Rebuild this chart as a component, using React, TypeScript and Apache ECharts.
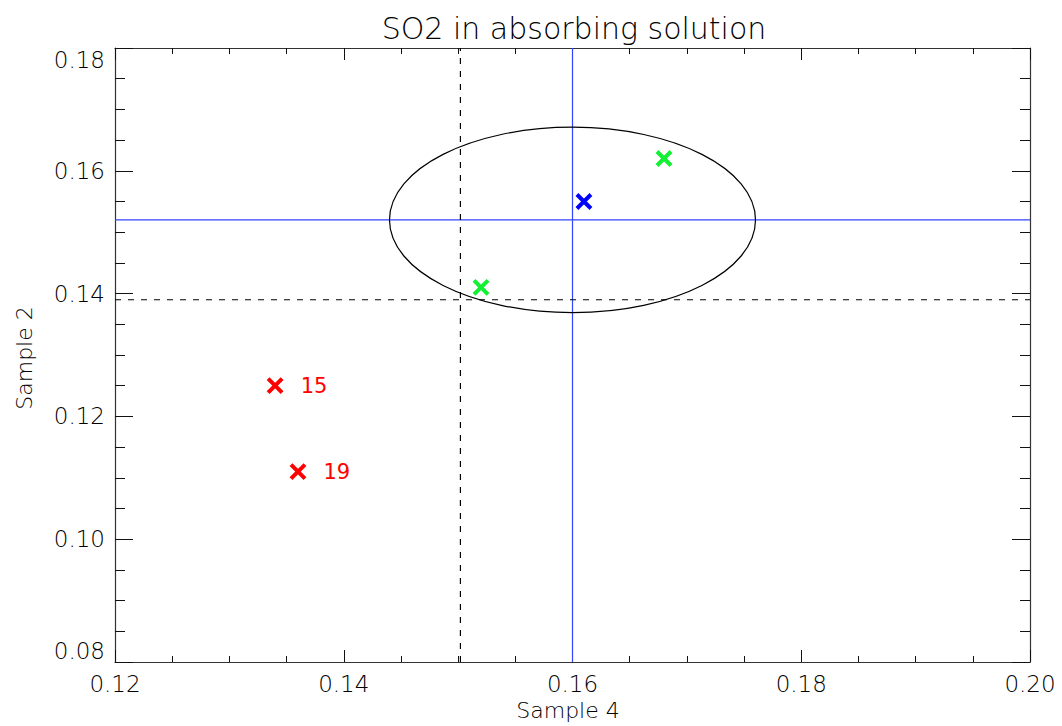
import React, { useEffect, useRef } from "react";
import * as echarts from "echarts";

const titleText = "SO2 in absorbing solution";
const xName = "Sample 4";
const yName = "Sample 2";

const xMin = 0.12;
const xMax = 0.2;
const yMin = 0.08;
const yMax = 0.18;
const majorStep = 0.02;

const redPoints: [number, number][] = [
  [0.134, 0.125],
  [0.136, 0.111],
];
const redLabels = ["15", "19"];
const greenPoints: [number, number][] = [
  [0.168, 0.162],
  [0.152, 0.141],
];
const bluePoints: [number, number][] = [[0.161, 0.155]];

const blueLineX = 0.16;
const blueLineY = 0.152;
const dashLineX = 0.1502;
const dashLineY = 0.139;

// ellipse: centre x, centre y, semi-axis x, semi-axis y
const ellipseData: [number, number, number, number][] = [[0.16, 0.152, 0.016, 0.0151]];

const FONT = "DejaVu Sans";
const TEXT_COLOR = "#000";
const AXIS_COLOR = "#333";
const CROSS = "path://M0,0L10,10M10,0L0,10";

const GRID_LEFT = 115;
const GRID_TOP = 48;
const GRID_W = 915;
const GRID_H = 614;

export default function App() {
  const ref = useRef<HTMLDivElement>(null);

  useEffect(() => {
    document.body.style.margin = "0";
    if (!ref.current) return;
    const chart = echarts.init(ref.current, undefined, { renderer: "svg" });

    const axisCommon = (len: number, minorLen: number) => ({
      axisLine: { show: true, onZero: false, lineStyle: { color: AXIS_COLOR, width: 1.2 } },
      axisTick: { show: true, inside: true, length: len, lineStyle: { color: "#111", width: 1 } },
      minorTick: { show: true, splitNumber: 4, length: minorLen, lineStyle: { color: "#111", width: 1 } },
      splitLine: { show: false },
      minorSplitLine: { show: false },
    });

    const fmt = (v: number) => v.toFixed(2);
    const labelStyle = { fontFamily: FONT, fontSize: 23, fontWeight: 200, color: TEXT_COLOR };

    const crossSeries = (data: [number, number][], color: string, extra: any = {}) => ({
      type: "scatter",
      data,
      symbol: CROSS,
      symbolSize: 14,
      itemStyle: { color: "none", borderColor: color, borderWidth: 4, opacity: 1 },
      emphasis: { disabled: true },
      z: 5,
      ...extra,
    });

    const refLine = (data: [number, number][], color: string, type: any) => ({
      type: "line",
      data,
      symbol: "none",
      silent: true,
      lineStyle: { color, width: 1.2, type },
      z: 2,
    });

    chart.setOption({
      animation: false,
      backgroundColor: "#fff",
      title: {
        text: titleText,
        left: 569,
        textAlign: "center",
        top: 8,
        textStyle: { fontFamily: FONT, fontSize: 30, fontWeight: 200, color: TEXT_COLOR },
      },
      graphic: [
        {
          type: "text",
          x: 568,
          y: 710,
          style: {
            text: xName,
            fontFamily: FONT,
            fontSize: 22,
            fontWeight: 200,
            fill: TEXT_COLOR,
            align: "center",
            verticalAlign: "middle",
          },
        },
        {
          type: "text",
          x: 24,
          y: 358,
          rotation: Math.PI / 2,
          style: {
            text: yName,
            fontFamily: FONT,
            fontSize: 22,
            fontWeight: 200,
            fill: TEXT_COLOR,
            align: "center",
            verticalAlign: "middle",
          },
        },
      ],
      grid: { left: GRID_LEFT, top: GRID_TOP, width: GRID_W, height: GRID_H, containLabel: false },
      xAxis: [
        {
          type: "value",
          min: xMin,
          max: xMax,
          interval: majorStep,
          position: "bottom",
          axisLabel: { formatter: fmt, margin: 10, ...labelStyle },
          ...axisCommon(12, 6),
        },
        {
          type: "value",
          min: xMin,
          max: xMax,
          interval: majorStep,
          position: "top",
          axisLabel: { show: false },
          ...axisCommon(12, 6),
        },
      ],
      yAxis: [
        {
          type: "value",
          min: yMin,
          max: yMax,
          interval: majorStep,
          position: "left",
          axisLabel: {
            formatter: fmt,
            margin: 10,
            ...labelStyle,
            verticalAlignMinLabel: "bottom",
            verticalAlignMaxLabel: "top",
          },
          ...axisCommon(18, 10),
        },
        {
          type: "value",
          min: yMin,
          max: yMax,
          interval: majorStep,
          position: "right",
          axisLabel: { show: false },
          ...axisCommon(18, 10),
        },
      ],
      series: [
        {
          type: "custom",
          coordinateSystem: "cartesian2d",
          data: ellipseData,
          renderItem: (params: any, api: any) => {
            const c = api.coord([api.value(0), api.value(1)]);
            const s = api.size([api.value(2), api.value(3)]);
            return {
              type: "ellipse",
              shape: { cx: c[0], cy: c[1], rx: s[0], ry: s[1] },
              style: { fill: "none", stroke: "#000", lineWidth: 1.2 },
              silent: true,
            };
          },
          z: 3,
        },
        refLine([[blueLineX, yMin], [blueLineX, yMax]], "#3344ff", "solid"),
        refLine([[xMin, blueLineY], [xMax, blueLineY]], "#3344ff", "solid"),
        refLine([[dashLineX, yMin], [dashLineX, yMax]], "#000", [6, 7]),
        refLine([[xMin, dashLineY], [xMax, dashLineY]], "#000", [6, 7]),
        crossSeries(redPoints, "#ff0000", {
          label: {
            show: true,
            position: "right",
            distance: 16,
            formatter: (p: any) => redLabels[p.dataIndex],
            fontFamily: FONT,
            fontSize: 21,
            color: "#ff0000",
          },
        }),
        crossSeries(greenPoints, "#11f033"),
        crossSeries(bluePoints, "#0000ff"),
      ],
    });

    return () => chart.dispose();
  }, []);

  return <div ref={ref} style={{ width: 1062, height: 726 }} />;
}
